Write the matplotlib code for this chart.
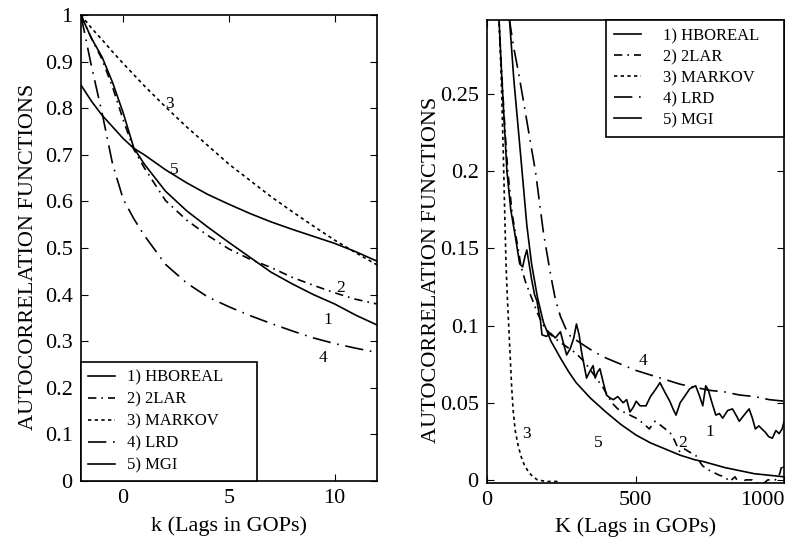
import matplotlib
matplotlib.use("Agg")
import matplotlib.pyplot as plt

plt.rcParams['font.family'] = ['Liberation Serif', 'DejaVu Serif']

# ---- left panel: small lags ----
k_left = [-2, -1.5, -1, -0.5, 0, 0.5, 1, 2, 3, 4, 5, 6, 7, 8, 9, 10, 11, 12]
hboreal_left = [1.0, 0.95, 0.91, 0.855, 0.79, 0.715, 0.68, 0.622, 0.58, 0.545, 0.512, 0.48,
                0.448, 0.423, 0.40, 0.38, 0.356, 0.335]
lar2_left = [1.0, 0.95, 0.905, 0.845, 0.775, 0.712, 0.672, 0.602, 0.56, 0.527, 0.498, 0.476,
             0.458, 0.437, 0.42, 0.404, 0.39, 0.38]
markov_left = [1.0, 0.972, 0.947, 0.921, 0.896, 0.872, 0.848, 0.803, 0.76, 0.72, 0.68, 0.645,
               0.61, 0.578, 0.547, 0.517, 0.49, 0.464]
lrd_left = [1.0, 0.89, 0.79, 0.68, 0.605, 0.563, 0.527, 0.465, 0.425, 0.395, 0.374, 0.355,
            0.338, 0.322, 0.307, 0.295, 0.285, 0.276]
mgi_left = [0.85, 0.815, 0.785, 0.76, 0.735, 0.714, 0.70, 0.668, 0.64, 0.615, 0.594, 0.574,
            0.556, 0.54, 0.525, 0.51, 0.492, 0.472]

# ---- right panel: large lags ----
k_hb = [40, 50, 60, 67, 80, 95, 110, 120, 128, 134, 140, 150, 160, 168, 175, 180, 185, 200,
        214, 230, 247, 258, 268, 280, 292, 301, 310, 318, 327, 335, 345, 357, 364, 372, 380,
        390, 402, 415, 425, 440, 458, 470, 481, 492, 502, 515, 535, 550, 565, 582, 598, 615,
        626, 636, 650, 668, 682, 702, 714, 726, 736, 745, 757, 770, 782, 793, 810, 826, 838,
        849, 865, 882, 893, 903, 915, 925, 936, 948, 960, 972, 983, 993, 1000]
hboreal_right = [0.30, 0.26, 0.225, 0.20, 0.175, 0.158, 0.14, 0.138, 0.145, 0.149, 0.142,
                 0.13, 0.12, 0.116, 0.108, 0.103, 0.094, 0.093, 0.095, 0.092, 0.096, 0.088,
                 0.081, 0.085, 0.092, 0.101, 0.094, 0.083, 0.074, 0.066, 0.07, 0.074, 0.066,
                 0.07, 0.072, 0.064, 0.055, 0.053, 0.052, 0.054, 0.05, 0.052, 0.044, 0.047,
                 0.051, 0.048, 0.048, 0.054, 0.058, 0.063, 0.057, 0.051, 0.046, 0.042, 0.05,
                 0.055, 0.059, 0.061, 0.055, 0.048, 0.061, 0.058, 0.05, 0.042, 0.043, 0.04,
                 0.045, 0.046, 0.042, 0.038, 0.042, 0.046, 0.04, 0.033, 0.035, 0.033, 0.031,
                 0.028, 0.027, 0.032, 0.03, 0.033, 0.038]

k_lar = [40, 50, 60, 70, 85, 100, 115, 130, 150, 170, 190, 215, 240, 270, 300, 330, 360,
         390, 420, 440, 470, 502, 530, 546, 565, 580, 600, 615, 630, 649, 665, 682, 702, 715,
         726, 750, 782, 800, 816, 835, 849, 870, 893, 910, 926, 945, 970, 985, 993, 1000]
lar2_right = [0.30, 0.262, 0.228, 0.20, 0.172, 0.155, 0.138, 0.128, 0.118, 0.108, 0.10,
              0.094, 0.09, 0.086, 0.082, 0.076, 0.068, 0.06, 0.05, 0.046, 0.043, 0.04, 0.036,
              0.033, 0.038, 0.036, 0.033, 0.031, 0.026, 0.018, 0.02, 0.018, 0.016, 0.012,
              0.009, 0.006, 0.003, 0.002, -0.001, 0.002, -0.003, 0.0, 0.0, -0.002, -0.003,
              0.0, 0.0, 0.004, 0.01, 0.006]

k_mk = [40, 48, 55, 60, 64, 68, 73, 78, 83, 88, 95, 105, 115, 125, 140, 155, 170, 200, 240]
markov_right = [0.30, 0.26, 0.21, 0.17, 0.14, 0.12, 0.10, 0.08, 0.06, 0.045, 0.032, 0.022,
                0.015, 0.01, 0.005, 0.002, 0.0, -0.001, -0.001]

k_lrd = [74, 90, 105, 124, 145, 163, 190, 214, 230, 247, 265, 281, 320, 360, 400, 450, 500,
         550, 600, 650, 700, 750, 800, 850, 900, 950, 1000]
lrd_right = [0.30, 0.28, 0.265, 0.244, 0.22, 0.20, 0.16, 0.133, 0.117, 0.106, 0.098, 0.093,
             0.088, 0.083, 0.079, 0.075, 0.071, 0.068, 0.065, 0.062, 0.06, 0.058, 0.057,
             0.055, 0.054, 0.052, 0.051]

k_mgi = [75, 90, 104, 118, 134, 150, 170, 190, 215, 247, 275, 300, 348, 400, 450, 502, 550,
         600, 650, 700, 726, 800, 850, 900, 950, 1000]
mgi_right = [0.30, 0.26, 0.23, 0.20, 0.165, 0.14, 0.118, 0.102, 0.09, 0.079, 0.07, 0.063,
             0.053, 0.044, 0.036, 0.029, 0.024, 0.02, 0.016, 0.013, 0.012, 0.008, 0.006,
             0.004, 0.003, 0.002]

legend_names = ['1) HBOREAL', '2) 2LAR', '3) MARKOV', '4) LRD', '5) MGI']
styles = ['-', (0, (5, 3, 1, 3)), (0, (2, 2)), (0, (11, 4, 1, 4)), '-']

left_yticks = [0, 0.1, 0.2, 0.3, 0.4, 0.5, 0.6, 0.7, 0.8, 0.9, 1]
left_ylabels = ['0', '0.1', '0.2', '0.3', '0.4', '0.5', '0.6', '0.7', '0.8', '0.9', '1']
right_yticks = [0, 0.05, 0.1, 0.15, 0.2, 0.25]
right_ylabels = ['0', '0.05', '0.1', '0.15', '0.2', '0.25']

left_marks = [('1', 9.7, 0.345), ('2', 10.3, 0.415), ('3', 2.2, 0.81), ('4', 9.45, 0.265),
              ('5', 2.4, 0.668)]
right_marks = [('1', 749, 0.031), ('2', 659, 0.024), ('3', 134, 0.030), ('4', 525, 0.077),
               ('5', 375, 0.024)]

fig = plt.figure(figsize=(8.01, 5.46), dpi=100)
ax1 = fig.add_axes([0.101, 0.119, 0.3695, 0.8535])
ax2 = fig.add_axes([0.608, 0.1154, 0.371, 0.848])

lc = 'black'
lw = 1.2

left_series = [hboreal_left, lar2_left, markov_left, lrd_left, mgi_left]
for ys, st, nm in zip(left_series, styles, legend_names):
    ax1.plot(k_left, ys, color=lc, lw=lw, linestyle=st, label=nm)

right_series = [(k_hb, hboreal_right), (k_lar, lar2_right), (k_mk, markov_right),
                (k_lrd, lrd_right), (k_mgi, mgi_right)]
for (xs, ys), st, nm in zip(right_series, styles, legend_names):
    ax2.plot(xs, ys, color=lc, lw=lw, linestyle=st, label=nm)

ax1.set_xlim(-2, 12)
ax1.set_ylim(0, 1)
ax1.set_xticks([0, 5, 10])
ax1.set_yticks(left_yticks)
ax1.set_yticklabels(left_ylabels)

ax2.set_xlim(0, 1000)
ax2.set_ylim(-0.002, 0.298)
ax2.set_xticks([0, 500, 1000])
ax2.set_xticklabels(['0', '500', '1000'])
ax2.set_yticks(right_yticks)
ax2.set_yticklabels(right_ylabels)

for ax in (ax1, ax2):
    ax.tick_params(direction='in', length=5, width=0.8, top=True, right=True,
                   labelsize=16, pad=6)
    for s in ax.spines.values():
        s.set_linewidth(1.2)
    ax.set_ylabel('AUTOCORRELATION FUNCTIONS', fontsize=16)

# the last x tick label sits at the figure edge, as in the original; pull it in a little
ax2.get_xticklabels()[-1].set_horizontalalignment('right')
ax2.get_xticklabels()[-1].set_x(1000)

ax1.set_xlabel('k (Lags in GOPs)', fontsize=16)
ax2.set_xlabel('K (Lags in GOPs)', fontsize=16)
ax1.yaxis.set_label_coords(-0.145, 0.48)
ax2.yaxis.set_label_coords(-0.155, 0.46)
ax1.xaxis.set_label_coords(0.5, -0.075)
ax2.xaxis.set_label_coords(0.5, -0.075)

for t, x, y in left_marks:
    ax1.text(x, y, t, fontsize=12.5, ha='center', va='center')
for t, x, y in right_marks:
    ax2.text(x, y, t, fontsize=12.5, ha='center', va='center')

leg1 = ax1.legend(loc='lower left', bbox_to_anchor=(0, 0, 0.595, 0.262), mode='expand',
                  borderaxespad=0, fontsize=12, handlelength=1.6, handletextpad=0.7,
                  labelspacing=0.36, borderpad=0.45, fancybox=False, framealpha=1,
                  edgecolor='black')
leg1.get_frame().set_linewidth(1.2)

leg2 = ax2.legend(loc='upper right', bbox_to_anchor=(0.4, 0.74, 0.6, 0.26), mode='expand',
                  borderaxespad=0, fontsize=12, handlelength=1.6, handletextpad=1.3,
                  labelspacing=0.3, borderpad=0.5, fancybox=False, framealpha=1,
                  edgecolor='black')
leg2.get_frame().set_linewidth(1.2)

fig.savefig('out.png', dpi=100)
